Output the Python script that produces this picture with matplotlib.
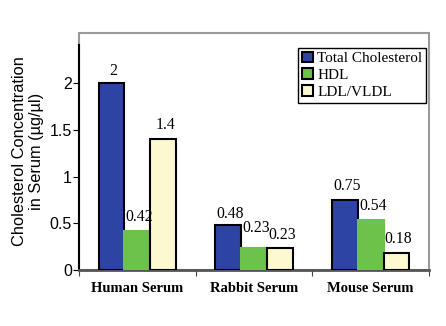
import matplotlib.pyplot as plt
import matplotlib.patches as mpatches
import numpy as np

# Cholesterol per serum type (ug/ul)
groups = ['Human Serum', 'Rabbit Serum', 'Mouse Serum']
series = ['Total Cholesterol', 'HDL', 'LDL/VLDL']
total = [2.0, 0.48, 0.75]
hdl = [0.42, 0.23, 0.54]
ldl = [1.4, 0.23, 0.18]
yticks = [0, 0.5, 1, 1.5, 2]
ytick_labels = ['0', '0.5', '1', '1.5', '2']

# colours / edges per series
colors = ['#2e44a4', '#6cc24a', '#fcf9d0']
edges = ['black', '#6cc24a', 'black']
# extra vertical nudge (points) for a few value labels
nudge = [[-1, -2, 0], [0, 5, 0], [0, 0, 0]]

fig = plt.figure(figsize=(4.46, 3.26), dpi=100)
ax = fig.add_axes([0.177, 0.172, 0.785, 0.727])

x = np.arange(len(groups))
w = 0.22
for k, vals in enumerate([total, hdl, ldl]):
    pos = x + (k - 1) * w
    ax.bar(pos, vals, width=w, color=colors[k], edgecolor=edges[k],
           linewidth=1.5, label=series[k], zorder=3)
    for i, v in enumerate(vals):
        ax.annotate('%g' % v, (pos[i], v), xytext=(1.5, 10 + nudge[k][i]),
                    textcoords='offset points', ha='center', va='center',
                    fontsize=11.3, family='Liberation Serif', zorder=4)

ax.set_xlim(-0.5, 2.5)
ax.set_ylim(0, 2.54)
ax.set_yticks(yticks)
ax.set_yticklabels(ytick_labels, family='Liberation Sans', fontsize=11.5)
ax.set_xticks([-0.5, 0.5, 1.5, 2.5])
ax.set_xticklabels([])
ax.set_xticks(x, minor=True)
ax.set_xticklabels(groups, minor=True, family='Liberation Serif',
                   fontweight='bold', fontsize=10.5)
ax.tick_params(axis='x', which='minor', length=0, pad=9)
ax.tick_params(axis='x', which='major', length=4, color='#444')
ax.tick_params(axis='y', length=4, pad=1)

# grey frame round the plot area, black value axis
frame = mpatches.Rectangle((0, 0), 1, 1, transform=ax.transAxes, fill=False,
                           edgecolor='#9a9a9a', linewidth=1.5, clip_on=False)
ax.add_patch(frame)
for s in ['top', 'right']:
    ax.spines[s].set_visible(False)
ax.spines['left'].set_bounds(0, 2.41)
ax.spines['left'].set_linewidth(1.5)
ax.spines['bottom'].set_color('#555555')
ax.spines['bottom'].set_linewidth(2)

ax.set_ylabel('Cholesterol Concentration\nin Serum (\u00b5g/\u00b5l)',
              family='Liberation Sans', fontsize=11.8, labelpad=4)

leg = ax.legend(loc='upper right', bbox_to_anchor=(0.992, 0.937),
                prop={'family': 'Liberation Serif', 'size': 11},
                fancybox=False, edgecolor='black', framealpha=1,
                handlelength=0.7, handleheight=0.7, handletextpad=0.3,
                borderpad=0.25, labelspacing=0.2, borderaxespad=0)
leg.get_frame().set_linewidth(1)
for h in leg.legend_handles:
    h.set_edgecolor('black')

fig.savefig('out.png', dpi=100)
